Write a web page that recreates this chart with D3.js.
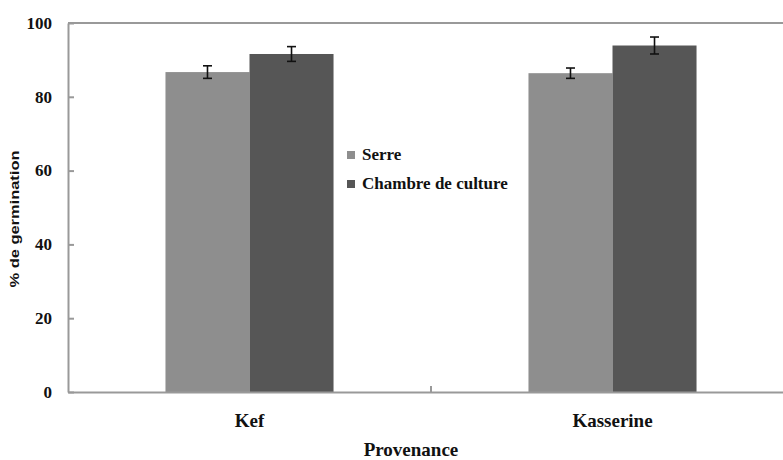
<!DOCTYPE html>
<html>
<head>
<meta charset="utf-8">
<script src="https://cdn.jsdelivr.net/npm/d3@7"></script>
<style>
  body { margin: 0; background: #fff; }
  svg { display: block; }
  .serif { font-family: "Liberation Serif", "DejaVu Serif", serif; font-weight: bold; fill: #111; }
</style>
</head>
<body>
<svg width="783" height="460"></svg>
<script>
// data
const categories = ["Kef", "Kasserine"];
const series = ["Serre", "Chambre de culture"];
const serreValues = [86.7, 86.4];
const serreErrors = [1.7, 1.4];
const chambreValues = [91.6, 93.9];
const chambreErrors = [2.0, 2.3];
const yTicks = [0, 20, 40, 60, 80, 100];
const colors = ["#8e8e8e", "#565656"];

const rows = categories.map((c, i) => ({
  category: c,
  bars: [
    { series: series[0], value: serreValues[i], err: serreErrors[i] },
    { series: series[1], value: chambreValues[i], err: chambreErrors[i] }
  ]
}));

const plotLeft = 68, plotTop = 23, plotBottom = 392, plotRight = 794;

const svg = d3.select("svg");

const yScale = d3.scaleLinear().domain([0, 100]).range([plotBottom, plotTop]);

const x0 = d3.scaleBand().domain(categories).range([plotLeft, plotRight]).padding(0);

const x1 = d3.scaleBand()
  .domain(series)
  .range([0, x0.bandwidth()])
  .paddingInner(0)
  .paddingOuter(1.16);

const color = d3.scaleOrdinal().domain(series).range(colors);

// bars
const groups = svg.selectAll(".grp")
  .data(rows)
  .enter()
  .append("g")
  .attr("transform", d => `translate(${x0(d.category)},0)`);

groups.selectAll("rect")
  .data(d => d.bars)
  .enter()
  .append("rect")
  .attr("x", d => x1(d.series))
  .attr("y", d => yScale(d.value))
  .attr("width", x1.bandwidth())
  .attr("height", d => plotBottom - yScale(d.value))
  .attr("fill", d => color(d.series));

// error bars
const errs = groups.selectAll(".err")
  .data(d => d.bars)
  .enter()
  .append("g")
  .attr("stroke", "#111")
  .attr("stroke-width", 1.6);

const cx = d => x1(d.series) + x1.bandwidth() / 2;
errs.append("line")
  .attr("x1", cx).attr("x2", cx)
  .attr("y1", d => yScale(d.value + d.err))
  .attr("y2", d => yScale(d.value - d.err));
errs.append("line")
  .attr("x1", d => cx(d) - 4.5).attr("x2", d => cx(d) + 4.5)
  .attr("y1", d => yScale(d.value + d.err))
  .attr("y2", d => yScale(d.value + d.err));
errs.append("line")
  .attr("x1", d => cx(d) - 4.5).attr("x2", d => cx(d) + 4.5)
  .attr("y1", d => yScale(d.value - d.err))
  .attr("y2", d => yScale(d.value - d.err));

// frame top line
svg.append("line")
  .attr("x1", plotLeft).attr("x2", plotRight)
  .attr("y1", plotTop).attr("y2", plotTop)
  .attr("stroke", "#999").attr("stroke-width", 2);

// y axis, ticks inside
const yAxis = svg.append("g")
  .attr("transform", `translate(${plotLeft},0)`)
  .call(d3.axisRight(yScale).tickValues(yTicks).tickSize(6).tickSizeOuter(0).tickFormat(""));
yAxis.selectAll("path, line").attr("stroke", "#999").attr("stroke-width", 2);

svg.selectAll(".ylab")
  .data(yTicks)
  .enter()
  .append("text")
  .attr("class", "serif")
  .attr("x", 52)
  .attr("y", d => yScale(d))
  .attr("dy", "0.34em")
  .attr("text-anchor", "end")
  .style("font-size", "17px")
  .text(d => d);

// x axis, boundary tick between the groups
const xAxis = svg.append("g")
  .attr("transform", `translate(0,${plotBottom})`)
  .call(d3.axisBottom(x0).tickSize(0).tickSizeOuter(0).tickFormat(""));
xAxis.selectAll("path").attr("stroke", "#999").attr("stroke-width", 2);

svg.append("line")
  .attr("x1", x0(categories[1])).attr("x2", x0(categories[1]))
  .attr("y1", plotBottom).attr("y2", plotBottom - 6)
  .attr("stroke", "#999").attr("stroke-width", 2);

svg.selectAll(".xlab")
  .data(categories)
  .enter()
  .append("text")
  .attr("class", "serif")
  .attr("x", d => x0(d) + x0.bandwidth() / 2)
  .attr("y", 427)
  .attr("text-anchor", "middle")
  .style("font-size", "19px")
  .text(d => d);

// axis titles
svg.append("text")
  .attr("class", "serif")
  .attr("x", 411)
  .attr("y", 456)
  .attr("text-anchor", "middle")
  .style("font-size", "19px")
  .text("Provenance");

svg.append("text")
  .attr("transform", "translate(19,219) rotate(-90)")
  .attr("text-anchor", "middle")
  .attr("textLength", 137)
  .attr("lengthAdjust", "spacingAndGlyphs")
  .style("font-family", "'Liberation Sans', Arial, sans-serif")
  .style("font-weight", "bold")
  .style("font-size", "13px")
  .style("fill", "#111")
  .text("% de germination");

// legend
const legend = svg.selectAll(".leg")
  .data(series)
  .enter()
  .append("g")
  .attr("transform", (d, i) => `translate(347,${151 + i * 29})`);

legend.append("rect")
  .attr("width", 8).attr("height", 8)
  .attr("fill", d => color(d));

legend.append("text")
  .attr("class", "serif")
  .attr("x", 15)
  .attr("y", 9)
  .style("font-size", "17px")
  .text(d => d);
</script>
</body>
</html>
